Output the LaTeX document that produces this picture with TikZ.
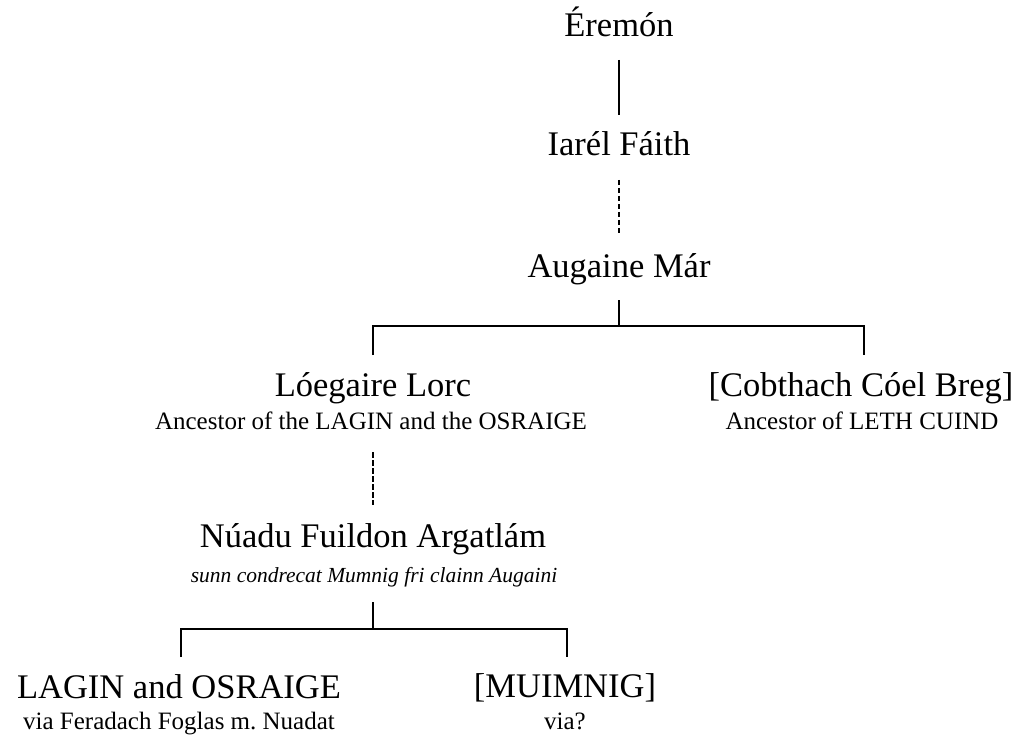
\documentclass[tikz,border=0pt]{standalone}
\usepackage{fontspec}
\setmainfont{Liberation Serif}
\begin{document}
\begin{tikzpicture}[x=1pt,y=-1pt,
  person/.style={inner sep=0pt, anchor=base, font=\fontsize{34.5}{34.5}\selectfont},
  note/.style={inner sep=0pt, anchor=base, font=\fontsize{25}{25}\selectfont},
  motto/.style={inner sep=0pt, anchor=base, font=\fontsize{21.5}{21.5}\selectfont\itshape},
  link/.style={line width=2.3pt},
  gapline/.style={line width=2.3pt, dash pattern=on 5.5pt off 2.5pt}]
\useasboundingbox (0,0) rectangle (1015,738);

% people
\node[person] (ere) at (619,37) {Éremón};
\node[person] (iar) at (619,156) {Iarél Fáith};
\node[person] (aug) at (619,277) {Augaine Már};
\node[person] (loe) at (373,396) {Lóegaire Lorc};
\node[note]   (loen) at (371,429) {Ancestor of the LAGIN and the OSRAIGE};
\node[person] (cob) at (861,396) {[Cobthach Cóel Breg]};
\node[note]   (cobn) at (862,429) {Ancestor of LETH CUIND};
\node[person] (nua) at (373,547) {Núadu Fuildon Argatlám};
\node[motto]  (nuan) at (374,582) {sunn condrecat Mumnig fri clainn Augaini};
\node[person] (lag) at (179,698) {LAGIN and OSRAIGE};
\node[note]   (lagn) at (179,729) {via Feradach Foglas m.\ Nuadat};
\node[person] (mui) at (565,697) {[MUIMNIG]};
\node[note]   (muin) at (565,729) {via?};

% connector end points
\coordinate (e1) at (619,60);   \coordinate (e2) at (619,115);
\coordinate (i1) at (619,180);  \coordinate (i2) at (619,235);
\coordinate (a1) at (619,300);  \coordinate (a2) at (619,326);
\coordinate (al) at (373,326);  \coordinate (ar) at (864,326);
\coordinate (al2) at (373,355); \coordinate (ar2) at (864,355);
\coordinate (l1) at (373,452);  \coordinate (l2) at (373,505);
\coordinate (n1) at (373,602);  \coordinate (n2) at (373,629);
\coordinate (nl) at (181,629);  \coordinate (nr) at (567,629);
\coordinate (nl2) at (181,657); \coordinate (nr2) at (567,657);

% lines of descent
\draw[link] (e1) -- (e2);
\draw[gapline] (i1) -- (i2);
\draw[link] (a1) -- (a2);
\draw[link, line join=miter] (al2) -- (al) -- (ar) -- (ar2);
\draw[gapline] (l1) -- (l2);
\draw[link] (n1) -- (n2);
\draw[link, line join=miter] (nl2) -- (nl) -- (nr) -- (nr2);
\end{tikzpicture}
\end{document}
